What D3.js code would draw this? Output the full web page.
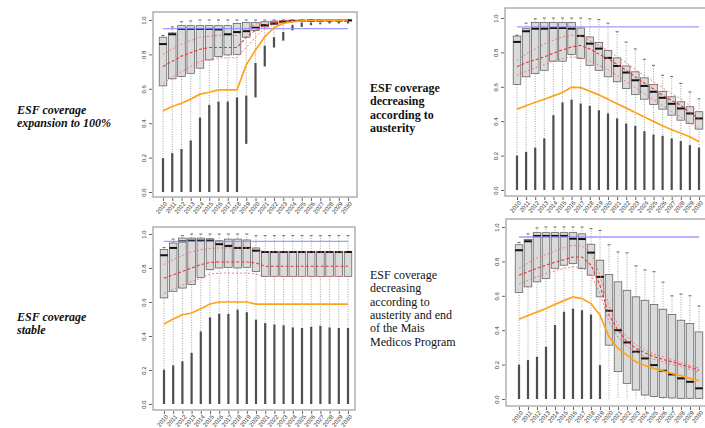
<!DOCTYPE html>
<html>
<head>
<meta charset="utf-8">
<script src="https://cdn.jsdelivr.net/npm/d3@7"></script>
<style>
  body { margin: 0; background: #fff; }
  svg { display: block; }
  .tick text { font-family: "Liberation Sans", sans-serif; font-size: 6px; fill: #333; }
  .tick line { stroke: #666; }
</style>
</head>
<body>
<svg id="chart" width="705" height="428"></svg>
<script>
// years on the x axis (same for all four scenarios)
var years = ["2010","2011","2012","2013","2014","2015","2016","2017","2018","2019","2020",
             "2021","2022","2023","2024","2025","2026","2027","2028","2029","2030"];
var yTicks = [0, 0.2, 0.4, 0.6, 0.8, 1.0];

// scenario 1 : ESF coverage expansion to 100%
var p1Q3 = [0.90,0.925,0.967,0.967,0.967,0.967,0.967,0.967,0.98,0.985,0.985,0.99,0.993,0.996,0.998,0.998,0.999,0.999,0.999,0.999,0.999];
var p1Med = [0.86,0.917,0.948,0.948,0.948,0.948,0.945,0.917,0.93,0.935,0.955,0.97,0.98,0.99,0.995,0.996,0.997,0.997,0.998,0.998,0.998];
var p1Q1 = [0.617,0.658,0.671,0.69,0.72,0.768,0.787,0.797,0.80,0.90,0.94,0.96,0.975,0.985,0.99,0.992,0.993,0.994,0.995,0.995,0.995];
var p1Hi = [0.91,0.96,0.99,0.995,1,1,1,1,1,1,1,1,1,1,1,1,1,1,1,1,1];
var p1OutLo = [0,0,0,0,0,0,0,0,0,0.28,0.55,0.73,0.84,0.88,0.94,0.96,0.97,0.975,0.98,0.98,0.98];
var p1OutHi = [0.197,0.226,0.25,0.30,0.433,0.507,0.526,0.526,0.55,0.56,0.75,0.85,0.90,0.93,0.97,0.985,0.985,0.985,0.99,0.99,0.99];
var p1Mean = [0.73,0.76,0.79,0.81,0.83,0.84,0.84,0.84,0.84,0.90,0.94,0.97,0.985,0.99,0.995,0.997,0.998,0.998,0.999,0.999,0.999];
var p1Up = [0.80,0.83,0.86,0.88,0.90,0.905,0.91,0.91,0.91,0.95,0.975,0.99,0.995,0.998,1,1,1,1,1,1,1];
var p1Low = [0.63,0.67,0.70,0.73,0.76,0.77,0.78,0.78,0.78,0.84,0.90,0.95,0.975,0.985,0.99,0.995,0.996,0.997,0.998,0.998,0.998];
var p1Orange = [0.472,0.497,0.516,0.54,0.569,0.58,0.594,0.594,0.594,0.739,0.826,0.903,0.955,0.98,0.99,0.995,0.997,0.998,0.999,0.999,1.0];
var p1Target = 0.95;

// scenario 2 : decreasing according to austerity
var p2Q3 = [0.895,0.938,0.973,0.973,0.973,0.973,0.973,0.942,0.89,0.857,0.812,0.768,0.721,0.687,0.652,0.613,0.574,0.542,0.513,0.484,0.455];
var p2Med = [0.861,0.923,0.938,0.938,0.942,0.942,0.938,0.896,0.851,0.822,0.768,0.721,0.683,0.638,0.605,0.571,0.536,0.501,0.474,0.445,0.416];
var p2Q1 = [0.613,0.658,0.677,0.696,0.749,0.749,0.787,0.764,0.725,0.696,0.658,0.629,0.59,0.555,0.528,0.497,0.47,0.435,0.406,0.387,0.354];
var p2Hi = [0.90,0.97,0.995,1,1,1,1,1,0.995,0.99,0.97,0.92,0.86,0.82,0.76,0.725,0.667,0.66,0.62,0.57,0.53];
var p2OutLo = [0,0,0,0,0,0,0,0,0,0,0,0,0,0,0,0,0,0,0,0,0];
var p2OutHi = [0.2,0.222,0.246,0.30,0.435,0.509,0.526,0.503,0.489,0.464,0.445,0.416,0.387,0.373,0.342,0.323,0.315,0.30,0.284,0.261,0.246];
var p2Mean = [0.716,0.74,0.757,0.774,0.795,0.815,0.832,0.841,0.82,0.79,0.764,0.73,0.695,0.658,0.622,0.587,0.551,0.52,0.493,0.45,0.415];
var p2Up = [0.754,0.79,0.82,0.85,0.87,0.89,0.90,0.895,0.87,0.84,0.81,0.775,0.74,0.70,0.665,0.63,0.595,0.56,0.53,0.49,0.45];
var p2Low = [0.667,0.69,0.71,0.73,0.75,0.765,0.774,0.77,0.75,0.725,0.70,0.665,0.63,0.595,0.56,0.525,0.49,0.455,0.425,0.39,0.36];
var p2Orange = [0.47,0.49,0.51,0.528,0.547,0.567,0.598,0.595,0.575,0.553,0.528,0.502,0.476,0.451,0.425,0.399,0.373,0.35,0.33,0.31,0.28];
var p2Target = 0.948;

// scenario 3 : ESF coverage stable
var p3Q3 = [0.908,0.947,0.976,0.976,0.976,0.972,0.96,0.97,0.97,0.965,0.918,0.898,0.898,0.898,0.898,0.898,0.898,0.898,0.898,0.898,0.898];
var p3Med = [0.875,0.918,0.957,0.961,0.961,0.961,0.94,0.93,0.918,0.918,0.902,0.894,0.894,0.894,0.894,0.894,0.894,0.894,0.894,0.894,0.894];
var p3Q1 = [0.624,0.663,0.682,0.702,0.745,0.79,0.80,0.804,0.80,0.804,0.78,0.751,0.751,0.751,0.751,0.751,0.751,0.751,0.751,0.751,0.751];
var p3Hi = [0.92,0.97,0.99,1,1,1,1,1,1,1,0.99,0.99,0.99,0.99,0.99,0.99,0.99,0.99,0.99,0.99,0.99];
var p3OutLo = [0,0,0,0,0,0,0,0,0,0,0,0,0,0,0,0,0,0,0,0,0];
var p3OutHi = [0.202,0.227,0.251,0.30,0.427,0.51,0.531,0.53,0.555,0.54,0.496,0.476,0.467,0.463,0.45,0.447,0.455,0.46,0.45,0.447,0.447];
var p3Mean = [0.74,0.76,0.78,0.80,0.82,0.833,0.835,0.835,0.835,0.835,0.83,0.81,0.81,0.81,0.81,0.81,0.81,0.81,0.81,0.81,0.81];
var p3Up = [0.82,0.85,0.875,0.895,0.908,0.915,0.918,0.918,0.918,0.918,0.91,0.895,0.895,0.895,0.895,0.895,0.895,0.895,0.895,0.895,0.895];
var p3Low = [0.65,0.675,0.70,0.72,0.74,0.765,0.77,0.77,0.77,0.77,0.765,0.75,0.75,0.75,0.75,0.75,0.75,0.75,0.75,0.75,0.75];
var p3Orange = [0.47,0.50,0.525,0.535,0.56,0.588,0.60,0.60,0.60,0.60,0.588,0.588,0.588,0.588,0.588,0.588,0.588,0.588,0.588,0.588,0.588];
var p3Target = 0.957;

// scenario 4 : austerity and end of Mais Medicos
var p4Q3 = [0.897,0.928,0.967,0.967,0.967,0.967,0.967,0.96,0.90,0.807,0.723,0.681,0.632,0.594,0.574,0.549,0.522,0.491,0.458,0.439,0.39];
var p4Med = [0.865,0.917,0.948,0.948,0.948,0.948,0.932,0.93,0.851,0.71,0.513,0.40,0.329,0.275,0.236,0.197,0.164,0.143,0.12,0.10,0.062];
var p4Q1 = [0.619,0.652,0.681,0.70,0.76,0.778,0.787,0.758,0.72,0.594,0.313,0.159,0.091,0.052,0.023,0.014,0.008,0.006,0.004,0.004,0.004];
var p4Hi = [0.91,0.96,0.995,1,1,1,1,1,0.99,0.98,0.897,0.855,0.85,0.774,0.75,0.74,0.68,0.60,0.61,0.60,0.54];
var p4OutLo = [0,0,0,0,0,0,0,0,0,0,null,null,null,null,null,null,null,null,null,null,null];
var p4OutHi = [0.20,0.226,0.246,0.304,0.43,0.507,0.526,0.516,0.491,0.197,null,null,null,null,null,null,null,null,null,null,null];
var p4Mean = [0.72,0.74,0.76,0.778,0.795,0.81,0.826,0.826,0.778,0.66,0.487,0.40,0.333,0.294,0.268,0.246,0.23,0.217,0.20,0.185,0.168];
var p4Up = [0.76,0.79,0.82,0.84,0.86,0.88,0.894,0.89,0.85,0.72,0.536,0.43,0.36,0.315,0.285,0.26,0.245,0.23,0.21,0.195,0.18];
var p4Low = [0.67,0.69,0.71,0.73,0.745,0.76,0.768,0.765,0.72,0.613,0.449,0.36,0.305,0.27,0.248,0.23,0.215,0.20,0.188,0.172,0.155];
var p4Orange = [0.464,0.485,0.505,0.526,0.55,0.572,0.594,0.584,0.555,0.487,0.362,0.294,0.255,0.217,0.195,0.178,0.163,0.149,0.135,0.12,0.106];
var p4Target = 0.942;

// scenario captions
var cap1 = ["ESF coverage", "expansion to 100%"];
var cap2 = ["ESF coverage", "decreasing", "according to", "austerity"];
var cap3 = ["ESF coverage", "stable"];
var cap4 = ["ESF coverage", "decreasing", "according to", "austerity and end", "of the Mais", "Medicos Program"];

var svg = d3.select("#chart");

var panels = [
  {q1:p1Q1, med:p1Med, q3:p1Q3, hi:p1Hi, outLo:p1OutLo, outHi:p1OutHi, mean:p1Mean, up:p1Up, low:p1Low, orange:p1Orange, target:p1Target,
   frame:[153,12,357,197], xr:[163,348], yr:[192,20]},
  {q1:p2Q1, med:p2Med, q3:p2Q3, hi:p2Hi, outLo:p2OutLo, outHi:p2OutHi, mean:p2Mean, up:p2Up, low:p2Low, orange:p2Orange, target:p2Target,
   frame:[505,8,716,196], xr:[517,699], yr:[190,18]},
  {q1:p3Q1, med:p3Med, q3:p3Q3, hi:p3Hi, outLo:p3OutLo, outHi:p3OutHi, mean:p3Mean, up:p3Up, low:p3Low, orange:p3Orange, target:p3Target,
   frame:[153,227,355,410], xr:[164,348], yr:[404,234]},
  {q1:p4Q1, med:p4Med, q3:p4Q3, hi:p4Hi, outLo:p4OutLo, outHi:p4OutHi, mean:p4Mean, up:p4Up, low:p4Low, orange:p4Orange, target:p4Target,
   frame:[506,219,716,406], xr:[519,699], yr:[399,227]}
];

panels.forEach(function(p){ drawPanel(p); });

function drawPanel(p){
  var g = svg.append("g");
  var x = d3.scalePoint().domain(years).range(p.xr);
  var y = d3.scaleLinear().domain([0,1]).range(p.yr);
  var bw = 7.6;
  var rows = years.map(function(yr, i){
    return {yr:yr, q1:p.q1[i], med:p.med[i], q3:p.q3[i], hi:p.hi[i], outLo:p.outLo[i], outHi:p.outHi[i]};
  });

  // frame
  g.append("rect")
    .attr("x", p.frame[0]).attr("y", p.frame[1])
    .attr("width", p.frame[2]-p.frame[0]).attr("height", p.frame[3]-p.frame[1])
    .attr("fill", "none").attr("stroke", "#aaa").attr("stroke-width", 1.4);

  // axes
  var ya = g.append("g").attr("transform", "translate(" + (p.frame[0]-1) + ",0)")
    .call(d3.axisLeft(y).tickValues(yTicks).tickSize(3).tickFormat(d3.format(".1f")));
  ya.select(".domain").remove();
  ya.selectAll(".tick text").attr("transform", "rotate(-90)").attr("x", 0).attr("y", -6)
    .attr("text-anchor", "middle").attr("dy", "0");

  var xa = g.append("g").attr("transform", "translate(0," + (p.frame[3]+1) + ")")
    .call(d3.axisBottom(x).tickSize(3));
  xa.select(".domain").remove();
  xa.selectAll(".tick text").attr("transform", "rotate(-50)").attr("text-anchor", "end")
    .attr("x", -2).attr("y", 5).attr("dy", "0.3em");

  // lower whisker (dotted) down to the outliers
  g.selectAll(".wlo").data(rows).enter().append("line")
    .attr("x1", function(d){ return x(d.yr); }).attr("x2", function(d){ return x(d.yr); })
    .attr("y1", function(d){ return y(d.q1); })
    .attr("y2", function(d){ return y(d.outHi == null ? 0 : d.outHi); })
    .attr("stroke", "#888").attr("stroke-width", 0.8).attr("stroke-dasharray", "1,1.5");

  // upper whisker + cap
  g.selectAll(".whi").data(rows).enter().append("line")
    .attr("x1", function(d){ return x(d.yr); }).attr("x2", function(d){ return x(d.yr); })
    .attr("y1", function(d){ return y(d.q3); }).attr("y2", function(d){ return y(d.hi); })
    .attr("stroke", "#888").attr("stroke-width", 0.8).attr("stroke-dasharray", "1,1.5");
  g.selectAll(".cap").data(rows).enter().append("line")
    .attr("x1", function(d){ return x(d.yr)-1.5; }).attr("x2", function(d){ return x(d.yr)+1.5; })
    .attr("y1", function(d){ return y(d.hi); }).attr("y2", function(d){ return y(d.hi); })
    .attr("stroke", "#555").attr("stroke-width", 0.9);

  // outliers (dense columns of points)
  g.selectAll(".out").data(rows.filter(function(d){ return d.outHi != null; })).enter().append("rect")
    .attr("x", function(d){ return x(d.yr)-1.1; })
    .attr("width", 2.2)
    .attr("y", function(d){ return y(d.outHi); })
    .attr("height", function(d){ return Math.max(1.5, y(d.outLo) - y(d.outHi)); })
    .attr("fill", "#222").attr("opacity", 0.8);

  // boxes
  g.selectAll(".box").data(rows).enter().append("rect")
    .attr("x", function(d){ return x(d.yr)-bw/2; }).attr("width", bw)
    .attr("y", function(d){ return y(d.q3); })
    .attr("height", function(d){ return Math.max(0.8, y(d.q1) - y(d.q3)); })
    .attr("fill", "#d4d4d4").attr("fill-opacity", 0.85)
    .attr("stroke", "#555").attr("stroke-width", 0.7);
  g.selectAll(".med").data(rows).enter().append("line")
    .attr("x1", function(d){ return x(d.yr)-bw/2; }).attr("x2", function(d){ return x(d.yr)+bw/2; })
    .attr("y1", function(d){ return y(d.med); }).attr("y2", function(d){ return y(d.med); })
    .attr("stroke", "#111").attr("stroke-width", 2);

  // target line
  g.append("line")
    .attr("x1", x(years[0])).attr("x2", x(years[years.length-1]))
    .attr("y1", y(p.target)).attr("y2", y(p.target))
    .attr("stroke", "#8c8cff").attr("stroke-width", 1.3).attr("opacity", 0.85);

  var line = d3.line().x(function(d, i){ return x(years[i]); }).y(function(d){ return y(d); });

  // red mean and band
  g.append("path").datum(p.up).attr("d", line).attr("fill", "none")
    .attr("stroke", "#f07070").attr("stroke-width", 0.9).attr("stroke-dasharray", "2,2");
  g.append("path").datum(p.low).attr("d", line).attr("fill", "none")
    .attr("stroke", "#f07070").attr("stroke-width", 0.9).attr("stroke-dasharray", "2,2");
  g.append("path").datum(p.mean).attr("d", line).attr("fill", "none")
    .attr("stroke", "#e33").attr("stroke-width", 1.1).attr("stroke-dasharray", "3,2");

  // orange line
  g.append("path").datum(p.orange).attr("d", line).attr("fill", "none")
    .attr("stroke", "#ffa31a").attr("stroke-width", 1.7);
}

// captions
function caption(lines, x, y0, style, weight){
  var t = svg.append("text").attr("x", x).attr("y", y0)
    .attr("font-family", "'Liberation Serif', serif").attr("font-size", 12)
    .attr("font-style", style).attr("font-weight", weight).attr("fill", "#111");
  lines.forEach(function(s, i){
    t.append("tspan").attr("x", x).attr("dy", i === 0 ? 0 : 13.3).text(s);
  });
}
caption(cap1, 17, 114, "italic", "bold");
caption(cap2, 370, 92, "normal", "bold");
caption(cap3, 17, 321, "italic", "bold");
caption(cap4, 370, 279, "normal", "normal");
</script>
</body>
</html>
